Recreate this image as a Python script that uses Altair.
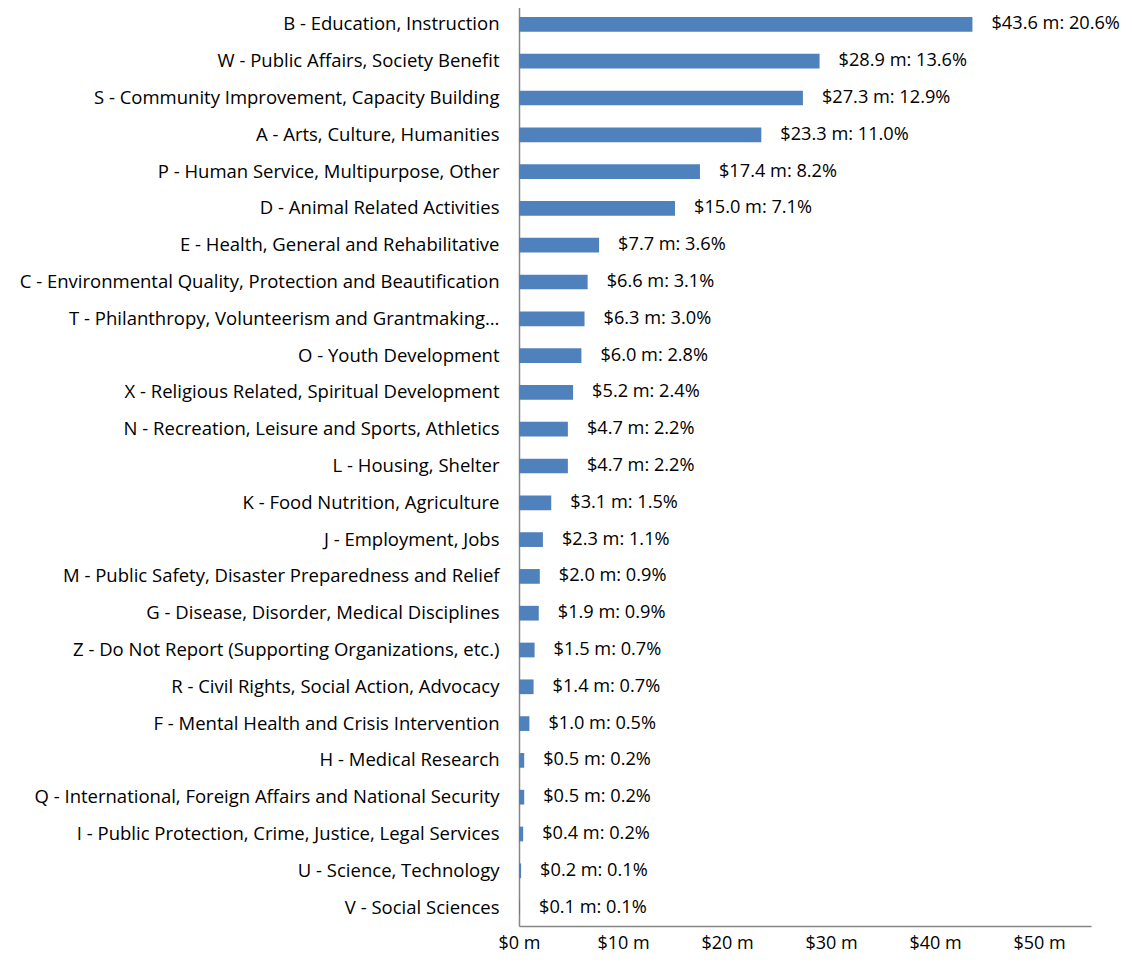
import altair as alt
import pandas as pd

categories = [
    "B - Education, Instruction",
    "W - Public Affairs, Society Benefit",
    "S - Community Improvement, Capacity Building",
    "A - Arts, Culture, Humanities\u00a0",
    "P - Human Service, Multipurpose, Other",
    "D - Animal Related Activities",
    "E - Health, General and Rehabilitative\u00a0",
    "C - Environmental Quality, Protection and Beautification",
    "T - Philanthropy, Volunteerism and Grantmaking\u2026",
    "O - Youth Development",
    "X - Religious Related, Spiritual Development",
    "N - Recreation, Leisure and Sports, Athletics\u00a0",
    "L - Housing, Shelter",
    "K - Food Nutrition, Agriculture",
    "J - Employment, Jobs",
    "M - Public Safety, Disaster Preparedness and Relief",
    "G - Disease, Disorder, Medical Disciplines",
    "Z - Do Not Report (Supporting Organizations, etc.)",
    "R - Civil Rights, Social Action, Advocacy",
    "F - Mental Health and Crisis Intervention",
    "H - Medical Research",
    "Q - International, Foreign Affairs and National Security",
    "I - Public Protection, Crime, Justice, Legal Services",
    "U - Science, Technology",
    "V - Social Sciences",
]
amounts = [43.6, 28.9, 27.3, 23.3, 17.4, 15.0, 7.7, 6.6, 6.3, 6.0, 5.2, 4.7, 4.7,
           3.1, 2.3, 2.0, 1.9, 1.5, 1.4, 1.0, 0.5, 0.5, 0.4, 0.2, 0.1]
shares = ["20.6%", "13.6%", "12.9%", "11.0%", "8.2%", "7.1%", "3.6%", "3.1%", "3.0%",
          "2.8%", "2.4%", "2.2%", "2.2%", "1.5%", "1.1%", "0.9%", "0.9%", "0.7%",
          "0.7%", "0.5%", "0.2%", "0.2%", "0.2%", "0.1%", "0.1%"]
x_ticks = [0, 10, 20, 30, 40, 50]

df = pd.DataFrame({
    "category": categories,
    "amount": amounts,
    "label": [f"${a:.1f} m: {s}" for a, s in zip(amounts, shares)],
})

FONT = "Open Sans"

y_enc = alt.Y(
    "category:N", sort=categories, title=None,
    scale=alt.Scale(paddingInner=0.6, paddingOuter=0.3),
    axis=alt.Axis(ticks=False, labelPadding=20, labelLimit=600, labelFontSize=18.5,
                  labelFont=FONT, labelColor="#000000", domainColor="#868686",
                  domainWidth=1.5, grid=False),
)
x_enc = alt.X(
    "amount:Q", title=None,
    scale=alt.Scale(domain=[0, 55], nice=False),
    axis=alt.Axis(values=x_ticks, labelExpr="'$' + datum.value + ' m'", ticks=False,
                  labelPadding=8, labelFontSize=18, labelFont=FONT,
                  labelColor="#000000", domainColor="#868686", domainWidth=1.5,
                  grid=False, labelFlush=False),
)

bars = alt.Chart(df).mark_bar(color="#4F81BD").encode(x=x_enc, y=y_enc)
labels = alt.Chart(df).mark_text(
    align="left", baseline="middle", dx=19, fontSize=18.2, font=FONT, color="#000000"
).encode(x="amount:Q", y=alt.Y("category:N", sort=categories), text="label:N")

chart = (bars + labels).properties(
    width=572, height=920,
    autosize=alt.AutoSizeParams(type="none"),
    padding={"left": 511, "top": -2, "right": 33, "bottom": 26},
).configure_view(stroke=None)

chart.save("out.html", embed_options={"renderer": "svg", "actions": False})
